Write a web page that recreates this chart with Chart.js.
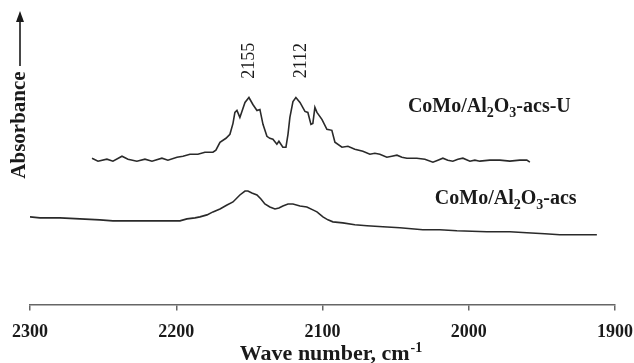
<!DOCTYPE html>
<html>
<head>
<meta charset="utf-8">
<script src="https://cdn.jsdelivr.net/npm/chart.js@4/dist/chart.umd.min.js"></script>
<style>
html, body { margin: 0; padding: 0; background: #fff; }
</style>
</head>
<body>
<canvas id="irChart" width="634" height="363"></canvas>
<script>
// ============================================
// DATOS
// ============================================

// CoMo/Al2O3-acs-U (curva superior)
const waveU = [
    2257.6, 2253.5, 2247.4, 2243.3, 2237.1, 2233.0, 2226.9, 2221.4, 2216.6, 2209.8,
    2205.7, 2199.5, 2195.4, 2190.6, 2185.2, 2180.4, 2174.9, 2172.9, 2170.1, 2166.0,
    2163.3, 2161.2, 2159.9, 2158.5, 2156.5, 2155.1, 2153.0, 2150.3, 2147.6, 2144.8,
    2142.8, 2140.7, 2138.0, 2136.0, 2133.9, 2131.2, 2129.8, 2127.1, 2125.0, 2123.6,
    2122.3, 2120.2, 2118.2, 2115.4, 2112.0, 2110.0, 2107.9, 2106.6, 2105.2, 2103.8,
    2100.4, 2097.0, 2093.6, 2091.5, 2086.7, 2082.6, 2077.9, 2072.4, 2067.6, 2064.2,
    2060.8, 2056.0, 2052.6, 2049.1, 2045.7, 2042.3, 2035.5, 2030.0, 2024.5, 2021.1,
    2017.7, 2014.3, 2010.9, 2007.4, 2004.0, 1999.2, 1995.8, 1992.4, 1985.6, 1978.7,
    1971.9, 1965.1, 1960.3, 1958.2
];
const absU = [
    147, 144, 146, 144, 149, 146, 144, 146, 144, 147,
    145, 148, 149, 151, 151, 153, 153, 155, 163, 167,
    171, 182, 193, 195, 188, 194, 203, 208, 201, 195,
    196, 181, 169, 167, 166, 161, 164, 158, 158, 171,
    188, 204, 208, 203, 194, 193, 181, 182, 198, 193,
    186, 176, 175, 163, 158, 159, 156, 154, 151, 152,
    151, 148, 149, 150, 148, 147, 147, 146, 143, 145,
    147, 145, 144, 146, 147, 144, 145, 144, 145, 145,
    144, 145, 145, 143
];

// CoMo/Al2O3-acs (curva inferior)
const waveA = [
    2300.0, 2293.2, 2279.5, 2265.8, 2252.2, 2243.3, 2238.5, 2218.0, 2197.5, 2192.7,
    2187.2, 2183.8, 2179.0, 2174.9, 2170.1, 2165.3, 2161.2, 2156.5, 2153.0, 2151.0,
    2148.3, 2144.8, 2142.1, 2139.4, 2136.0, 2132.5, 2129.8, 2127.1, 2123.6, 2120.2,
    2115.4, 2110.7, 2106.6, 2103.8, 2099.7, 2096.3, 2092.9, 2086.1, 2077.9, 2069.6,
    2058.7, 2047.1, 2031.4, 2019.8, 2008.1, 1987.6, 1971.9, 1960.3, 1948.0, 1937.7,
    1924.1, 1912.4
];
const absA = [
    88, 87, 87, 86, 85, 84, 84, 84, 84, 86,
    87, 88, 90, 93, 96, 100, 103, 110, 114, 114,
    112, 110, 106, 101, 98, 96, 97, 99, 101, 101,
    99, 98, 95, 93, 88, 85, 83, 82, 80, 79,
    78, 77, 75, 75, 74, 73, 73, 72, 71, 70,
    70, 70
];

// Etiquetas
const seriesNames = ['CoMo/Al2O3-acs-U', 'CoMo/Al2O3-acs'];
const seriesLabelX = [2041.6, 2023.2];
const seriesLabelY = [200, 108];

const peakLabels = ['2155', '2112'];
const peakLabelX = [2151, 2115.4];
const peakLabelY = 245;

const xTicks = [2300, 2200, 2100, 2000, 1900];
const xTitle = 'Wave number, cm';
const xTitleSup = '-1';
const yTitle = 'Absorbance';

// ============================================
// UTILIDADES DE TEXTO
// ============================================

const SERIF = '"Liberation Serif", "Times New Roman", serif';

// Digito despues de letra -> subindice
function splitFormula(text) {
    const parts = [];
    for (let i = 0; i < text.length; i++) {
        const ch = text[i];
        const sub = /[0-9]/.test(ch) && i > 0 && /[A-Za-z]/.test(text[i - 1]);
        const last = parts[parts.length - 1];
        if (last && last.sub === sub) last.t += ch;
        else parts.push({ t: ch, sub: sub });
    }
    return parts;
}

function drawFormula(ctx, text, x, y, size) {
    const parts = splitFormula(text);
    const big = 'bold ' + size + 'px ' + SERIF;
    const small = 'bold ' + Math.round(size * 0.68) + 'px ' + SERIF;
    ctx.textAlign = 'left';
    ctx.textBaseline = 'alphabetic';
    let cx = x;
    parts.forEach(p => {
        ctx.font = p.sub ? small : big;
        ctx.fillText(p.t, cx, p.sub ? y + size * 0.25 : y);
        cx += ctx.measureText(p.t).width;
    });
}

// ============================================
// PLUGIN DE ANOTACIONES
// ============================================

const annotations = {
    id: 'annotations',
    afterDraw(chart) {
        const ctx = chart.ctx;
        const xs = chart.scales.x;
        const ys = chart.scales.y;
        const area = chart.chartArea;
        ctx.save();
        ctx.fillStyle = '#1a1a1a';

        // Nombres de las series
        seriesNames.forEach((name, i) => {
            const px = xs.getPixelForValue(seriesLabelX[i]);
            const py = ys.getPixelForValue(seriesLabelY[i]);
            drawFormula(ctx, name, px, py + 7, 20);
        });

        // Picos (texto vertical)
        ctx.font = '18px ' + SERIF;
        ctx.textAlign = 'center';
        ctx.textBaseline = 'middle';
        peakLabels.forEach((lbl, i) => {
            const px = xs.getPixelForValue(peakLabelX[i]);
            const py = ys.getPixelForValue(peakLabelY);
            ctx.save();
            ctx.translate(px, py);
            ctx.rotate(-Math.PI / 2);
            ctx.fillText(lbl, 0, 1);
            ctx.restore();
        });

        // Titulo eje Y con flecha
        const ax = area.left - 10;
        ctx.save();
        ctx.translate(ax, 125);
        ctx.rotate(-Math.PI / 2);
        ctx.font = 'bold 21px ' + SERIF;
        ctx.textAlign = 'center';
        ctx.textBaseline = 'middle';
        ctx.fillText(yTitle, 0, 0);
        ctx.restore();
        ctx.strokeStyle = '#1a1a1a';
        ctx.lineWidth = 1.6;
        ctx.beginPath();
        ctx.moveTo(ax, 66);
        ctx.lineTo(ax, 20);
        ctx.stroke();
        ctx.beginPath();
        ctx.moveTo(ax, 11);
        ctx.lineTo(ax - 4, 22);
        ctx.lineTo(ax + 4, 22);
        ctx.closePath();
        ctx.fill();

        // Titulo eje X con superindice
        ctx.font = 'bold 22px ' + SERIF;
        const w1 = ctx.measureText(xTitle).width;
        ctx.font = 'bold 14px ' + SERIF;
        const w2 = ctx.measureText(xTitleSup).width;
        const cx = (area.left + area.right) / 2 + 8;
        const tx = cx - (w1 + w2) / 2;
        const ty = 360;
        ctx.textAlign = 'left';
        ctx.textBaseline = 'alphabetic';
        ctx.font = 'bold 22px ' + SERIF;
        ctx.fillText(xTitle, tx, ty);
        ctx.font = 'bold 14px ' + SERIF;
        ctx.fillText(xTitleSup, tx + w1 + 1, ty - 8);

        ctx.restore();
    }
};

// ============================================
// GRAFICO
// ============================================

const toPoints = (xs, ys) => xs.map((x, i) => ({ x: x, y: ys[i] }));

const ctx = document.getElementById('irChart').getContext('2d');
const chart = new Chart(ctx, {
    type: 'line',
    data: {
        datasets: [
            {
                label: seriesNames[0],
                data: toPoints(waveU, absU),
                borderColor: '#2a2a2a',
                borderWidth: 1.6,
                pointRadius: 0,
                tension: 0,
                fill: false
            },
            {
                label: seriesNames[1],
                data: toPoints(waveA, absA),
                borderColor: '#2a2a2a',
                borderWidth: 1.6,
                pointRadius: 0,
                tension: 0,
                fill: false
            }
        ]
    },
    options: {
        responsive: false,
        animation: false,
        devicePixelRatio: 1,
        layout: {
            padding: { left: 30, right: 19, top: 6, bottom: 9 }
        },
        plugins: {
            legend: { display: false },
            tooltip: { enabled: false }
        },
        scales: {
            x: {
                type: 'linear',
                reverse: true,
                min: 1900,
                max: 2300,
                afterBuildTicks: axis => {
                    axis.ticks = xTicks.map(v => ({ value: v }));
                },
                // las etiquetas extremas caben en el padding del layout
                afterFit: axis => {
                    axis.paddingLeft = 0;
                    axis.paddingRight = 0;
                },
                border: { display: true, color: '#666', width: 1.5 },
                grid: {
                    display: true,
                    drawOnChartArea: false,
                    drawTicks: true,
                    tickLength: 6,
                    color: '#666',
                    lineWidth: 1.5
                },
                ticks: {
                    maxRotation: 0,
                    padding: 11,
                    color: '#1a1a1a',
                    font: { family: SERIF, size: 18, weight: 'bold' },
                    callback: value => String(value)
                }
            },
            y: {
                display: false,
                min: 0,
                max: 300
            }
        }
    },
    plugins: [annotations]
});
</script>
</body>
</html>
